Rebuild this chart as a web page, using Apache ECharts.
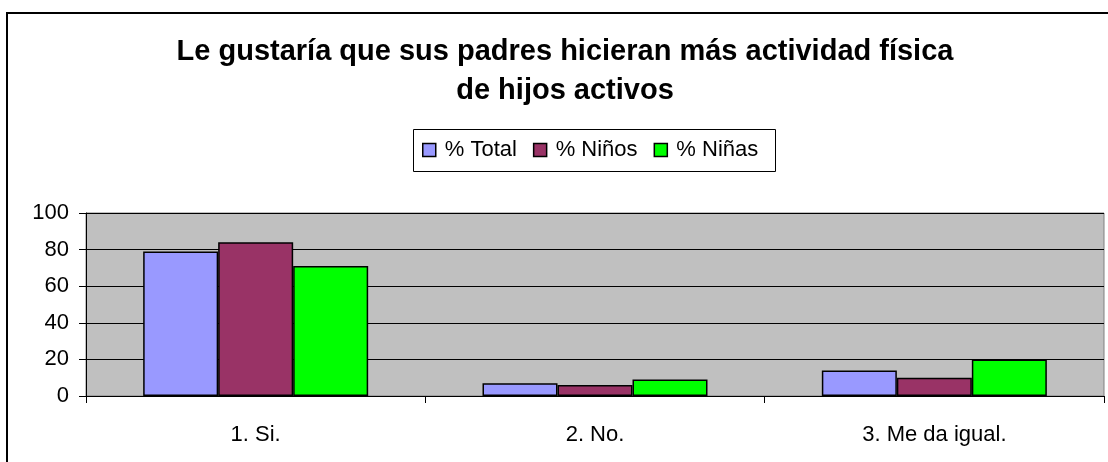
<!DOCTYPE html>
<html><head><meta charset="utf-8">
<script src="https://cdn.jsdelivr.net/npm/echarts@6/dist/echarts.min.js"></script>
<style>html,body{margin:0;padding:0;background:#fff}#c{width:1108px;height:462px}</style>
</head><body><div id="c"></div>
<script>
const categories = ['1. Si.', '2. No.', '3. Me da igual.'];
const seriesNames = ['% Total', '% Niños', '% Niñas'];
const total = [79, 7, 14];
const ninos = [84, 6, 10];
const ninas = [71, 9, 20];
const yTicks = [0, 20, 40, 60, 80, 100];
const colors = ['#9999FF', '#993366', '#00FF00'];

const chart = echarts.init(document.getElementById('c'), null, {renderer: 'canvas'});
const font = 'Liberation Sans, Arial, sans-serif';
const mk = (name, data, i) => ({
  name, type: 'bar', data, barGap: '0%', barWidth: 75,
  itemStyle: {color: colors[i], borderColor: '#000', borderWidth: 1.5},
  emphasis: {disabled: true}
});
chart.setOption({
  animation: false,
  backgroundColor: '#fff',
  graphic: [
    {type: 'rect', shape: {x: 7, y: 13, width: 1120, height: 470}, style: {fill: 'none', stroke: '#000', lineWidth: 2}, z: 100},
    {type: 'rect', shape: {x: 413.5, y: 129.5, width: 362, height: 42}, style: {fill: '#fff', stroke: '#000', lineWidth: 1}, z: 0}
  ],
  title: {
    text: 'Le gustaría que sus padres hicieran más actividad física\nde hijos activos',
    left: 565, top: 32, textAlign: 'center', padding: 0,
    textStyle: {fontFamily: font, fontWeight: 'bold', fontSize: 29, lineHeight: 39, color: '#000'}
  },
  legend: {
    data: seriesNames, left: 413, top: 129, height: 42,
    padding: [10, 10, 10, 9], itemGap: 16, itemWidth: 13, itemHeight: 13,
    borderWidth: 0, icon: 'rect', selectedMode: false, z: 5,
    itemStyle: {borderColor: '#000', borderWidth: 1.5},
    textStyle: {fontFamily: font, fontSize: 22, lineHeight: 22, color: '#000', padding: [0, 0, 0, 4]}
  },
  grid: {left: 86, top: 213, right: 4, bottom: 66, show: true, backgroundColor: '#C0C0C0', borderColor: '#808080', borderWidth: 1},
  xAxis: {
    type: 'category', data: categories,
    axisLine: {lineStyle: {color: '#000', width: 1}},
    axisTick: {show: true, length: 7, lineStyle: {color: '#000'}},
    axisLabel: {fontFamily: font, fontSize: 22, color: '#000', margin: 28}
  },
  yAxis: {
    type: 'value', min: yTicks[0], max: yTicks[yTicks.length - 1], interval: 20,
    axisLine: {show: true, lineStyle: {color: '#000', width: 1}},
    axisTick: {show: true, length: 7, lineStyle: {color: '#000'}},
    axisLabel: {fontFamily: font, fontSize: 22, color: '#000', margin: 17},
    splitLine: {lineStyle: {color: '#000', width: 1}}
  },
  series: [mk(seriesNames[0], total, 0), mk(seriesNames[1], ninos, 1), mk(seriesNames[2], ninas, 2)]
});
</script></body></html>
